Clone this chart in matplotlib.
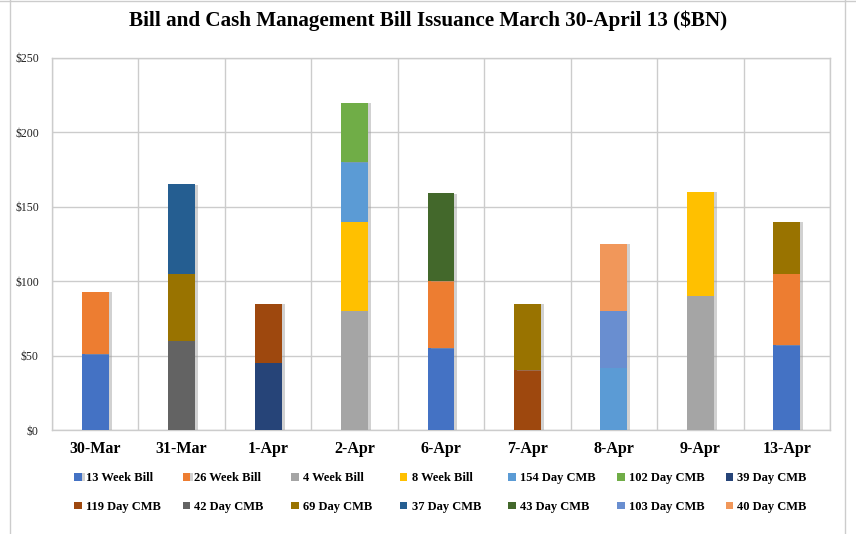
import matplotlib
matplotlib.use("Agg")
import matplotlib.pyplot as plt
import matplotlib.patheffects as pe
from matplotlib.lines import Line2D
import numpy as np

categories = ["30-Mar", "31-Mar", "1-Apr", "2-Apr", "6-Apr", "7-Apr", "8-Apr", "9-Apr", "13-Apr"]

series_names = ["13 Week Bill", "26 Week Bill", "4 Week Bill", "8 Week Bill",
                "154 Day CMB", "102 Day CMB", "39 Day CMB",
                "119 Day CMB", "42 Day CMB", "69 Day CMB", "37 Day CMB",
                "43 Day CMB", "103 Day CMB", "40 Day CMB"]

week13 = [51, 0, 0, 0, 55, 0, 0, 0, 57]
week26 = [42, 0, 0, 0, 45, 0, 0, 0, 48]
week4 = [0, 0, 0, 80, 0, 0, 0, 90, 0]
week8 = [0, 0, 0, 60, 0, 0, 0, 70, 0]
cmb154 = [0, 0, 0, 40, 0, 0, 42, 0, 0]
cmb102 = [0, 0, 0, 40, 0, 0, 0, 0, 0]
cmb39 = [0, 0, 45, 0, 0, 0, 0, 0, 0]
cmb119 = [0, 0, 40, 0, 0, 40, 0, 0, 0]
cmb42 = [0, 60, 0, 0, 0, 0, 0, 0, 0]
cmb69 = [0, 45, 0, 0, 0, 45, 0, 0, 35]
cmb37 = [0, 60, 0, 0, 0, 0, 0, 0, 0]
cmb43 = [0, 0, 0, 0, 59, 0, 0, 0, 0]
cmb103 = [0, 0, 0, 0, 0, 0, 38, 0, 0]
cmb40 = [0, 0, 0, 0, 0, 0, 45, 0, 0]

series_values = [week13, week26, week4, week8, cmb154, cmb102, cmb39,
                 cmb119, cmb42, cmb69, cmb37, cmb43, cmb103, cmb40]

colors = ["#4472C4", "#ED7D31", "#A5A5A5", "#FFC000", "#5B9BD5", "#70AD47", "#264478",
          "#9E480E", "#636363", "#997300", "#255E91", "#43682B", "#698ED0", "#F1975A"]

y_ticks = [0, 50, 100, 150, 200, 250]
y_ticklabels = ["$0", "$50", "$100", "$150", "$200", "$250"]

title = "Bill and Cash Management Bill Issuance March 30-April 13 ($BN)"

W, H = 856, 534
fig = plt.figure(figsize=(W / 100, H / 100), dpi=100)
ax = fig.add_axes([52 / W, 1 - 430 / H, 778 / W, 372 / H])

serif = ["Liberation Serif", "DejaVu Serif"]
x = np.arange(len(categories))
bottom = np.zeros(len(categories))
handles = []
shadow = [pe.SimplePatchShadow(offset=(2.2, -0.3), shadow_rgbFace="#999999", alpha=0.45), pe.Normal()]
for name, vals, c in zip(series_names, series_values, colors):
    v = np.array(vals, dtype=float)
    bars = ax.bar(x, v, width=0.31, bottom=bottom, color=c, label=name, zorder=3,
                  linewidth=0)
    for b, val in zip(bars, v):
        if val > 0:
            b.set_path_effects(shadow)
    handles.append(bars)
    bottom += v

ax.set_xlim(-0.5, len(categories) - 0.5)
ax.set_ylim(0, 250)
ax.set_yticks(y_ticks)
ax.set_yticklabels(y_ticklabels, fontfamily=serif, fontsize=8.5, color="#222222")
ax.set_xticks(x)
ax.set_xticklabels(categories, fontfamily=serif, fontsize=11.5, fontweight="bold")
ax.set_xticks(np.arange(len(categories) + 1) - 0.5, minor=True)
ax.tick_params(axis="both", which="both", length=0)
ax.tick_params(axis="y", pad=9.5)
ax.tick_params(axis="x", pad=8)
ax.grid(axis="y", which="major", color="#cccccc", linewidth=1, zorder=0)
ax.grid(axis="x", which="minor", color="#cccccc", linewidth=1, zorder=0)
for s in ax.spines.values():
    s.set_color("#cccccc")
    s.set_linewidth(1)

fig.text(428 / W, 1 - 21 / H, title, ha="center", va="center",
         fontfamily=serif, fontsize=15.2, fontweight="bold")

# legend: 7 columns x 2 rows
for i in range(7):
    xpx = 74 + 108.6 * i
    fig.legend([handles[i], handles[i + 7]], [series_names[i], series_names[i + 7]],
               loc="upper left", bbox_to_anchor=(xpx / W, 1 - 472 / H),
               ncol=1, frameon=False, borderpad=0, borderaxespad=0,
               handlelength=0.6, handleheight=0.6, handletextpad=0.35,
               labelspacing=1.35, prop={"family": serif, "size": 9, "weight": "bold"})

# figure frame lines
for (xs, ys) in [((10 / W, 10 / W), (0, 1)), ((845 / W, 845 / W), (0, 1)), ((0, 1), (1 - 1 / H, 1 - 1 / H))]:
    fig.add_artist(Line2D(xs, ys, color="#cccccc", linewidth=1, transform=fig.transFigure))

fig.savefig("out.png", dpi=100)
